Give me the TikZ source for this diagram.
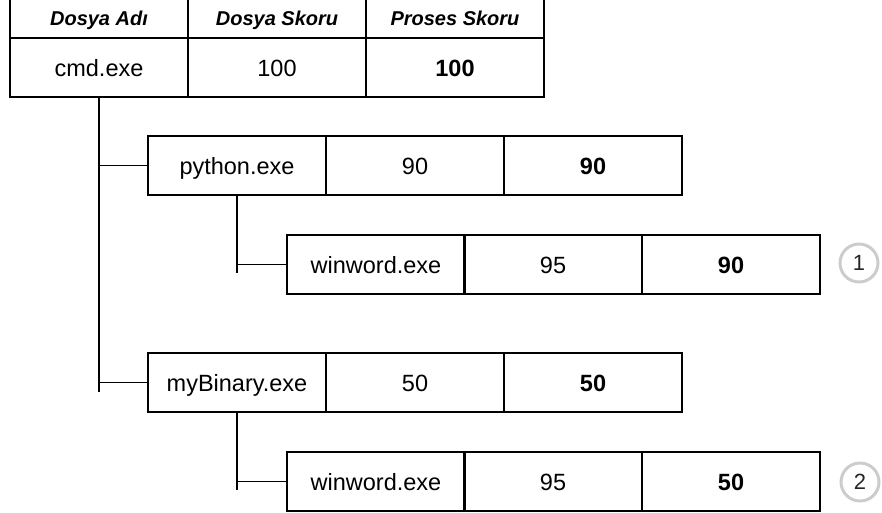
\documentclass[tikz,border=0pt]{standalone}
\usepackage{fontspec}
\setmainfont{Liberation Sans}
\begin{document}
\begin{tikzpicture}[x=1pt,y=-1pt,
  cell/.style={draw=black, line width=1.8pt, rectangle, anchor=north west,
    minimum width=178pt, minimum height=59pt, inner sep=0pt, outer sep=0pt,
    text height=17pt, text depth=0pt,
    font=\fontsize{23.5}{26}\selectfont},
  headcell/.style={cell, minimum height=40pt, text height=14.4pt,
    font=\fontsize{20}{22}\selectfont\bfseries\itshape},
  score/.style={cell, font=\fontsize{23.5}{26}\selectfont\bfseries},
  link/.style={draw=black, line width=1.8pt},
  marker/.style={circle, draw=black!20, line width=3pt, minimum size=38pt,
    inner sep=0pt, text=black!85, font=\fontsize{22}{24}\selectfont}]
\useasboundingbox (0,0) rectangle (882,512);

% header row
\node[headcell] (hName) at (10,-2) {Dosya Adı};
\node[headcell] (hFile) at (188,-2) {Dosya Skoru};
\node[headcell] (hProc) at (366,-2) {Proses Skoru};

% cmd.exe
\node[cell]  (cmdName) at (10,38)  {cmd.exe};
\node[cell]  (cmdFile) at (188,38) {100};
\node[score] (cmdProc) at (366,38) {100};

% python.exe
\node[cell]  (pyName) at (148,136) {python.exe};
\node[cell]  (pyFile) at (326,136) {90};
\node[score] (pyProc) at (504,136) {90};

% winword.exe under python.exe
\node[cell]  (wwaName) at (287,235) {winword.exe};
\node[cell]  (wwaFile) at (464,235) {95};
\node[score] (wwaProc) at (642,235) {90};

% myBinary.exe
\node[cell]  (binName) at (148,353) {myBinary.exe};
\node[cell]  (binFile) at (326,353) {50};
\node[score] (binProc) at (504,353) {50};

% winword.exe under myBinary.exe
\node[cell]  (wwbName) at (287,452) {winword.exe};
\node[cell]  (wwbFile) at (464,452) {95};
\node[score] (wwbProc) at (642,452) {50};

% numbered markers
\node[marker] (mOne) at (859,263) {1};
\node[marker] (mTwo) at (860,482) {2};

% tree connectors
\coordinate (trunkEnd) at (99,392);
\coordinate (pyEnd) at (237,273);
\coordinate (binEnd) at (237,490);

\draw[link] (cmdName.south) -- (cmdName.south |- trunkEnd);
\draw[link] (cmdName.south |- pyName.west) -- (pyName.west);
\draw[link] (cmdName.south |- binName.west) -- (binName.west);

\draw[link] (pyName.south) -- (pyName.south |- pyEnd);
\draw[link] (pyName.south |- wwaName.west) -- (wwaName.west);

\draw[link] (binName.south) -- (binName.south |- binEnd);
\draw[link] (binName.south |- wwbName.west) -- (wwbName.west);
\end{tikzpicture}
\end{document}
